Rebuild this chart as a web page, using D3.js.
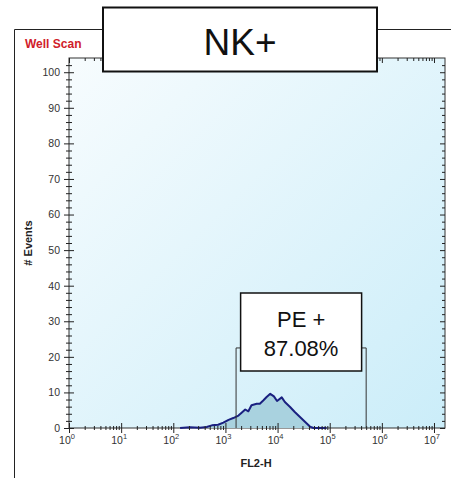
<!DOCTYPE html>
<html>
<head>
<meta charset="utf-8">
<script src="https://cdn.jsdelivr.net/npm/d3@7"></script>
<style>
  html, body { margin: 0; padding: 0; background: #fff; }
  svg { display: block; font-family: "Liberation Sans", Arial, sans-serif; }
</style>
</head>
<body>
<svg id="chart" width="451" height="478"></svg>
<script>
// data
const fl2 = [135, 209, 324, 437, 550, 724, 912, 1148, 1413, 1778, 2042, 2399, 2754, 3162,
  3981, 4571, 5370, 6166, 7244, 8511, 9772, 12023, 13804, 17378, 21380, 26915, 33884,
  41687, 48978, 87096];
const events = [0, 0.2, 0.1, 0.3, 0.75, 0.9, 1.5, 2.3, 2.8, 3.5, 4.3, 5.2, 4.7, 6.4,
  6.8, 6.8, 7.8, 8.7, 9.6, 8.9, 7.6, 8.6, 7.3, 5.9, 4.5, 3.1, 1.7, 0.4, 0, 0];
const decades = [0, 1, 2, 3, 4, 5, 6, 7];
const yTicks = [0, 10, 20, 30, 40, 50, 60, 70, 80, 90, 100];
const gate = [1600, 500000];
const gateTop = 22.5;
const gateLabel = ["PE +", "87.08%"];
const title = "NK+";

const svg = d3.select("#chart");
const margin = {left: 69, right: 6, top: 58, bottom: 50};
const W = 451, H = 478;

const x = d3.scaleLog().domain([1, Math.pow(10, 7.211)]).range([margin.left, W - margin.right]);
const y = d3.scaleLinear().domain([0, 104]).range([H - margin.bottom, margin.top]);

const defs = svg.append("defs");
const grad = defs.append("linearGradient").attr("id", "bg")
  .attr("x1", "0").attr("y1", "0").attr("x2", "1").attr("y2", "1");
grad.append("stop").attr("offset", "0").attr("stop-color", "#f7fcfe");
grad.append("stop").attr("offset", "1").attr("stop-color", "#cbedf9");

// outer frame (cut off at right and bottom)
svg.append("path")
  .attr("d", "M14.5,478 V29.5 H451")
  .attr("fill", "none").attr("stroke", "#222").attr("stroke-width", 1);

svg.append("text")
  .attr("x", 25).attr("y", 47.5)
  .attr("fill", "#d0202a").attr("font-weight", "bold").attr("font-size", 12)
  .text("Well Scan");

// plot area
const x0 = x.range()[0], x1 = x.range()[1], yb = y(0), yt = y.range()[1];
svg.append("rect")
  .attr("x", x0).attr("y", yt).attr("width", x1 - x0).attr("height", yb - yt)
  .attr("fill", "url(#bg)").attr("stroke", "#333").attr("stroke-width", 1);

// histogram
const area = d3.area().x((d, i) => x(fl2[i])).y0(y(0)).y1(d => y(d));
const line = d3.line().x((d, i) => x(fl2[i])).y(d => y(d));
svg.append("path").datum(events).attr("d", area).attr("fill", "#a9d2df");
svg.append("path").datum(events).attr("d", line)
  .attr("fill", "none").attr("stroke", "#1a2080").attr("stroke-width", 2)
  .attr("stroke-linejoin", "round");

// minor ticks
const minorX = [];
decades.forEach(e => { for (let k = 2; k <= 9; k++) { const v = k * Math.pow(10, e); if (v < x.domain()[1]) minorX.push(v); } });
const minorY = d3.range(0, 104, 2).filter(v => v % 10 !== 0);

function noText(g) { g.selectAll("text").remove(); g.select(".domain").remove(); }

// left axis (labels + crossing ticks)
svg.append("g").attr("transform", `translate(${x0},0)`)
  .call(d3.axisLeft(y).tickValues(yTicks).tickSize(5).tickPadding(4))
  .call(g => {
    g.select(".domain").remove();
    g.selectAll("text").attr("font-size", 10.5).attr("fill", "#333").attr("font-family", "Liberation Sans, Arial, sans-serif");
  });
svg.append("g").attr("transform", `translate(${x0},0)`)
  .call(d3.axisRight(y).tickValues(yTicks).tickSize(5)).call(noText);
svg.append("g").attr("transform", `translate(${x0},0)`)
  .call(d3.axisLeft(y).tickValues(minorY).tickSize(3)).call(noText);
svg.append("g").attr("transform", `translate(${x0},0)`)
  .call(d3.axisRight(y).tickValues(minorY).tickSize(3)).call(noText);
// right inner ticks
svg.append("g").attr("transform", `translate(${x1},0)`)
  .call(d3.axisLeft(y).tickValues(yTicks).tickSize(5)).call(noText);
svg.append("g").attr("transform", `translate(${x1},0)`)
  .call(d3.axisLeft(y).tickValues(minorY).tickSize(3)).call(noText);

// bottom axis
const xMajor = decades.map(e => Math.pow(10, e));
svg.append("g").attr("transform", `translate(0,${yb})`)
  .call(d3.axisBottom(x).tickValues(xMajor).tickSize(5).tickFormat(() => ""))
  .call(g => g.select(".domain").remove());
svg.append("g").attr("transform", `translate(0,${yb})`)
  .call(d3.axisTop(x).tickValues(xMajor).tickSize(5)).call(noText);
svg.append("g").attr("transform", `translate(0,${yb})`)
  .call(d3.axisBottom(x).tickValues(minorX).tickSize(2)).call(noText);
svg.append("g").attr("transform", `translate(0,${yb})`)
  .call(d3.axisTop(x).tickValues(minorX).tickSize(2)).call(noText);
// top inner ticks
svg.append("g").attr("transform", `translate(0,${yt})`)
  .call(d3.axisBottom(x).tickValues(xMajor).tickSize(5)).call(noText);
svg.append("g").attr("transform", `translate(0,${yt})`)
  .call(d3.axisBottom(x).tickValues(minorX).tickSize(3)).call(noText);
svg.selectAll(".tick line").attr("stroke", "#222");

// x tick labels 10^n
const xl = svg.append("g").selectAll("text").data(decades).join("text")
  .attr("x", d => x(Math.pow(10, d)) - 2).attr("y", yb + 16)
  .attr("text-anchor", "middle").attr("font-size", 10.5).attr("fill", "#333");
xl.append("tspan").text("10");
xl.append("tspan").attr("dy", -5).attr("font-size", 7.5).text(d => d);

// axis titles
svg.append("text").attr("x", (x0 + x1) / 2 - 1).attr("y", 467)
  .attr("text-anchor", "middle").attr("font-weight", "bold").attr("font-size", 11).attr("fill", "#222")
  .text("FL2-H");
svg.append("text").attr("transform", `translate(32,${y(52)}) rotate(-90)`)
  .attr("text-anchor", "middle").attr("font-weight", "bold").attr("font-size", 11).attr("fill", "#222")
  .text("# Events");

// gate
const gx0 = x(gate[0]), gx1 = x(gate[1]), gy = y(gateTop);
const bw = 121, bh = 78, bcx = (gx0 + gx1) / 2;
const gateG = svg.append("g").attr("stroke", "#333").attr("stroke-width", 1).attr("fill", "none");
gateG.append("path").attr("d", `M${gx0},${yb} V${gy} H${bcx - bw / 2}`);
gateG.append("path").attr("d", `M${gx1},${yb} V${gy} H${bcx + bw / 2}`);
svg.append("rect").attr("x", bcx - bw / 2).attr("y", 293).attr("width", bw).attr("height", bh)
  .attr("fill", "#fff").attr("stroke", "#111").attr("stroke-width", 1.5);
svg.append("g").selectAll("text").data(gateLabel).join("text")
  .attr("x", bcx).attr("y", (d, i) => 327 + i * 29)
  .attr("text-anchor", "middle").attr("font-size", 22).attr("fill", "#111")
  .text(d => d);

// title box
svg.append("rect").attr("x", 103).attr("y", 7.5).attr("width", 274).attr("height", 64)
  .attr("fill", "#fff").attr("stroke", "#111").attr("stroke-width", 2);
svg.append("text").attr("x", 240).attr("y", 55)
  .attr("text-anchor", "middle").attr("font-size", 37).attr("fill", "#111")
  .text(title);
</script>
</body>
</html>
